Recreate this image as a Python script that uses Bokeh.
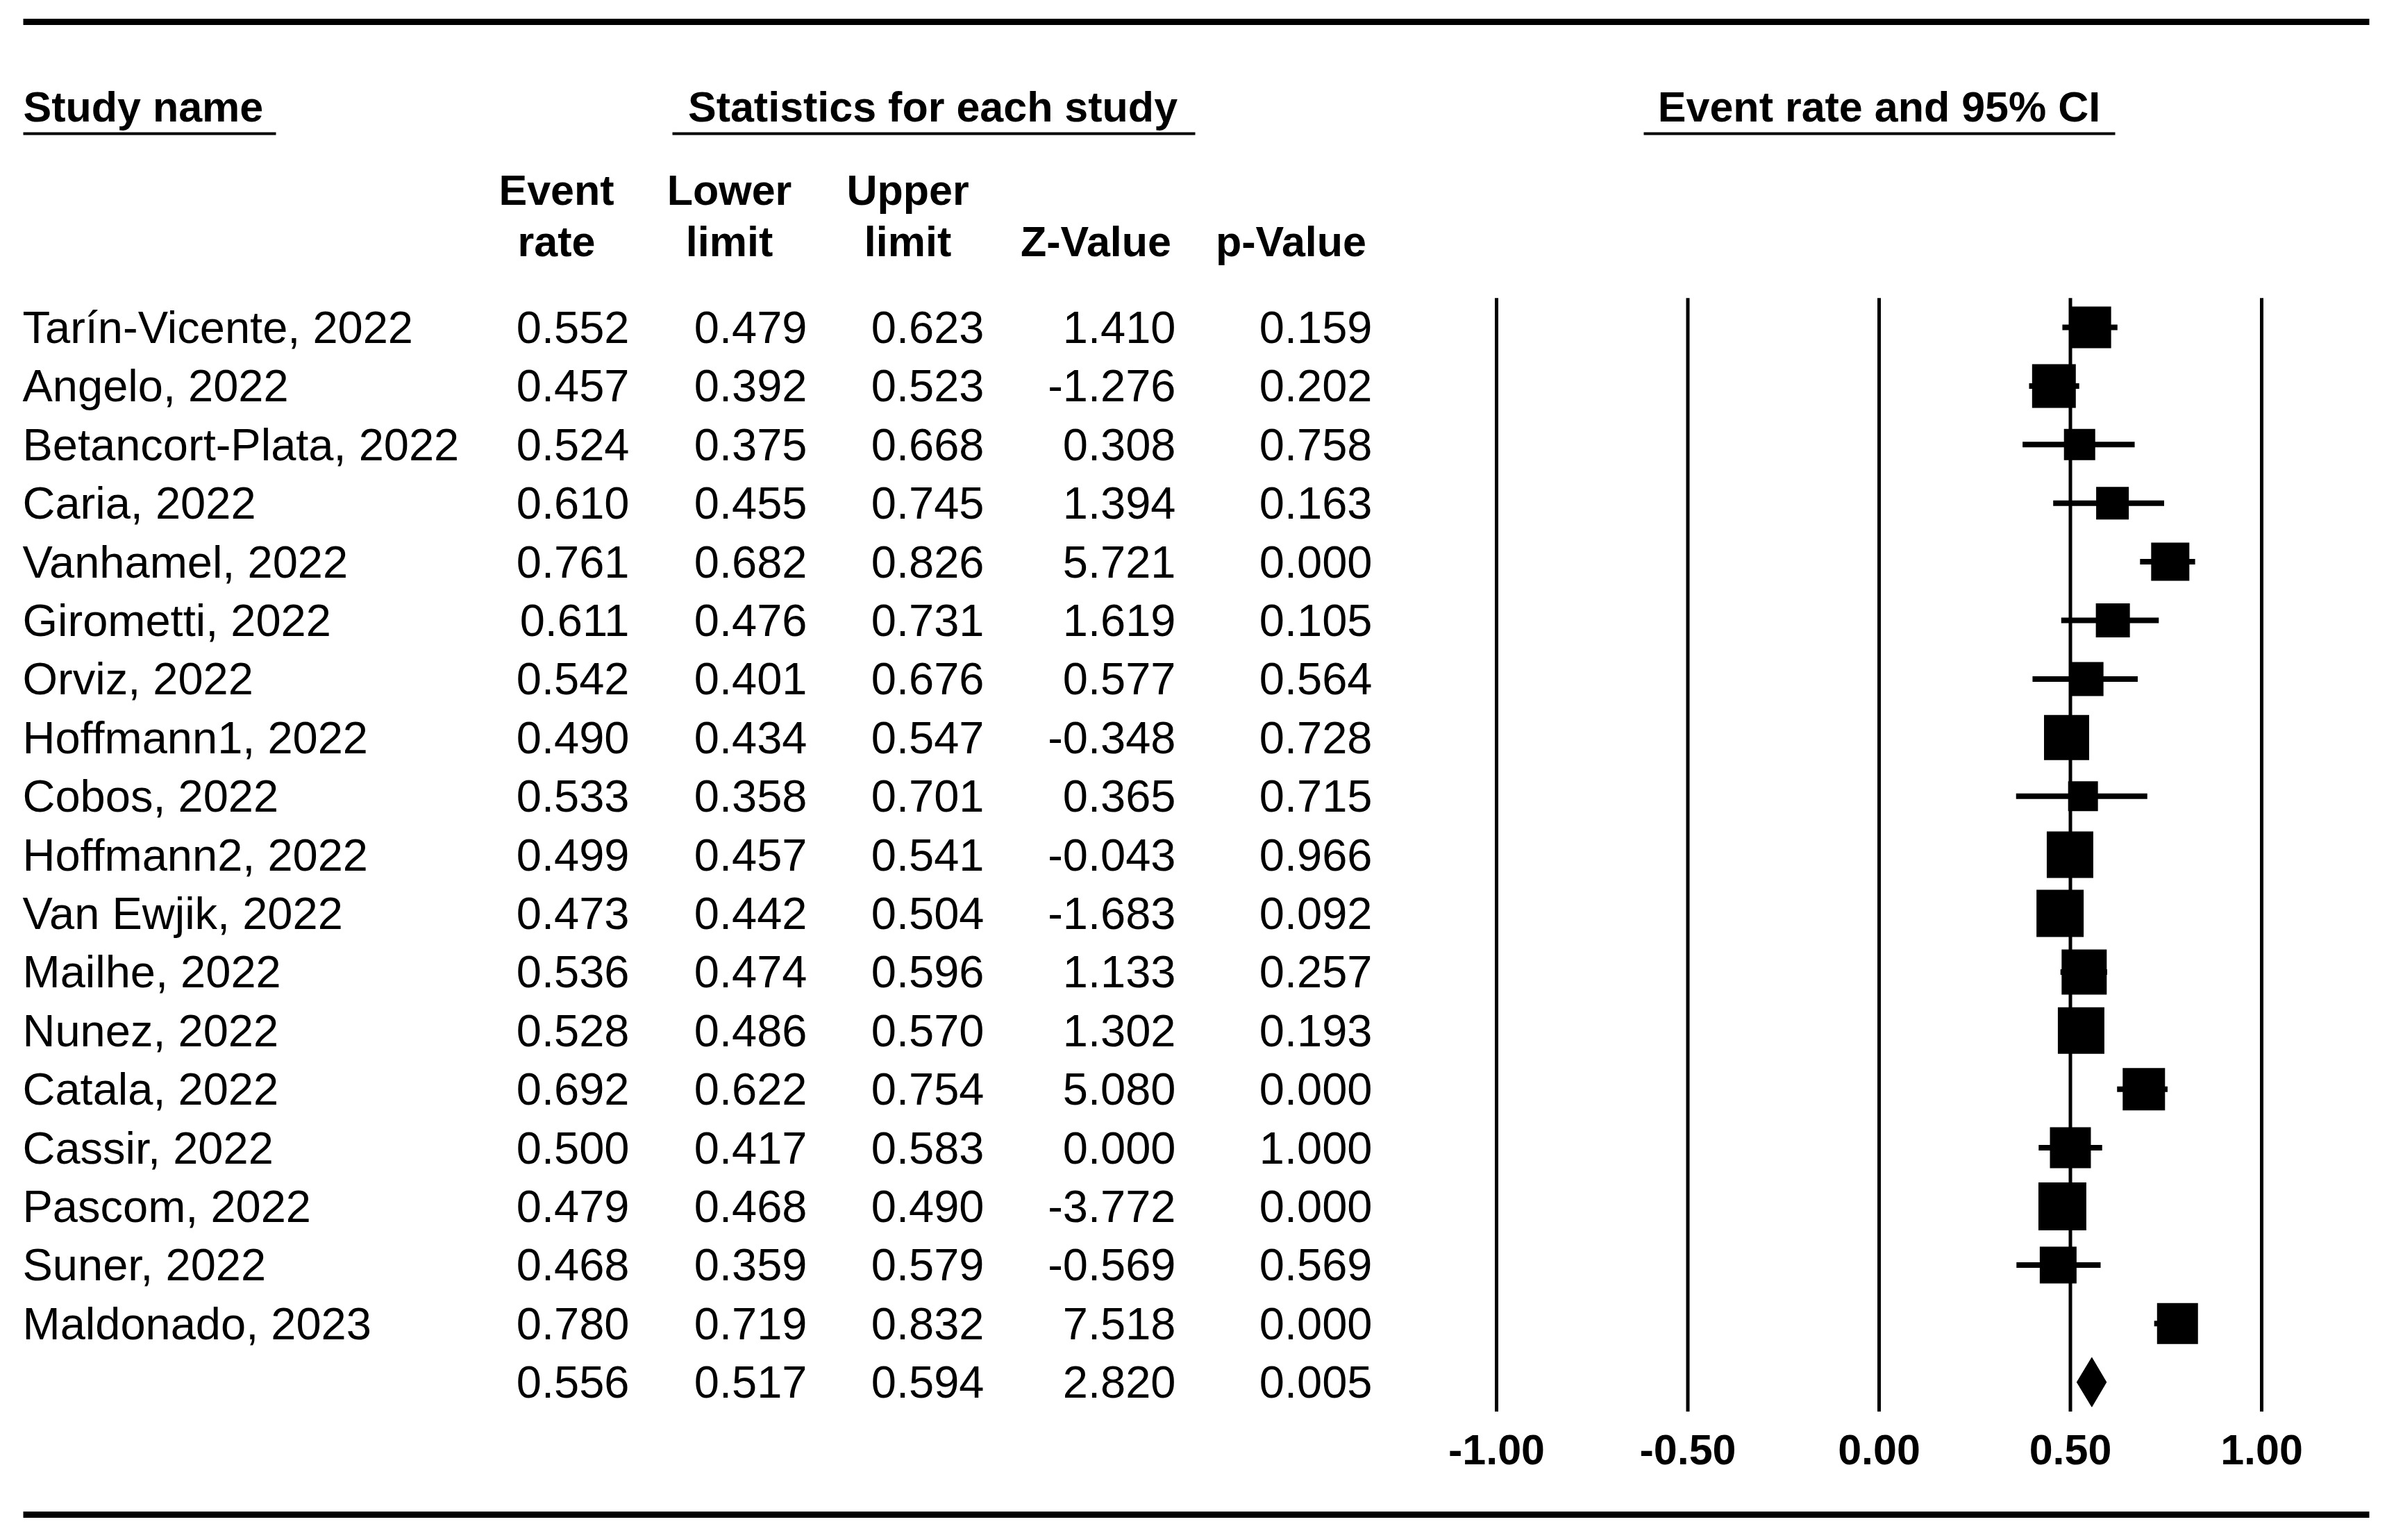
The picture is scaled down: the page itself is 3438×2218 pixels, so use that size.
import math
from bokeh.plotting import figure
from bokeh.models import Range1d, ColumnDataSource
from bokeh.core.properties import value
from bokeh.embed import file_html
from bokeh.resources import INLINE

# ---------------- data ----------------
studies = [
    "Tarín-Vicente, 2022", "Angelo, 2022", "Betancort-Plata, 2022", "Caria, 2022",
    "Vanhamel, 2022", "Girometti, 2022", "Orviz, 2022", "Hoffmann1, 2022",
    "Cobos, 2022", "Hoffmann2, 2022", "Van Ewjik, 2022", "Mailhe, 2022",
    "Nunez, 2022", "Catala, 2022", "Cassir, 2022", "Pascom, 2022",
    "Suner, 2022", "Maldonado, 2023",
]
event_rate = [0.552, 0.457, 0.524, 0.610, 0.761, 0.611, 0.542, 0.490, 0.533,
              0.499, 0.473, 0.536, 0.528, 0.692, 0.500, 0.479, 0.468, 0.780]
lower_limit = [0.479, 0.392, 0.375, 0.455, 0.682, 0.476, 0.401, 0.434, 0.358,
               0.457, 0.442, 0.474, 0.486, 0.622, 0.417, 0.468, 0.359, 0.719]
upper_limit = [0.623, 0.523, 0.668, 0.745, 0.826, 0.731, 0.676, 0.547, 0.701,
               0.541, 0.504, 0.596, 0.570, 0.754, 0.583, 0.490, 0.579, 0.832]
z_value = [1.410, -1.276, 0.308, 1.394, 5.721, 1.619, 0.577, -0.348, 0.365,
           -0.043, -1.683, 1.133, 1.302, 5.080, 0.000, -3.772, -0.569, 7.518]
p_value = [0.159, 0.202, 0.758, 0.163, 0.000, 0.105, 0.564, 0.728, 0.715,
           0.966, 0.092, 0.257, 0.193, 0.000, 1.000, 0.000, 0.569, 0.000]
# relative weights
weight_pct = [5.83, 6.42, 3.28, 3.58, 4.90, 3.89, 3.89, 6.84, 2.99,
              7.27, 7.48, 6.84, 7.27, 6.02, 5.63, 7.71, 4.55, 5.63]
summary_rate, summary_lower, summary_upper = 0.556, 0.517, 0.594
summary_z, summary_p = 2.820, 0.005
axis_ticks = [-1.0, -0.5, 0.0, 0.5, 1.0]
axis_labels = ["-1.00", "-0.50", "0.00", "0.50", "1.00"]

# ---------------- layout constants ----------------
W, H = 3422, 2202
ROW0 = 471.0      # pixel of first row centre
ROW_H = 84.4      # row spacing in px
X_M1, X_P1 = 2155.0, 3257.0   # pixel of -1 and +1 on forest scale
PPU = (X_P1 - X_M1) / 2.0

FONT = value("Liberation Sans")
REG = "65px"
BOLD = "61px"
BASE = 0.0   # text y is placed at the row centre

forest = Range1d(start=-1 - X_M1 / PPU, end=1 + (W - X_P1) / PPU)
rows = Range1d(start=(H - ROW0) / ROW_H, end=-ROW0 / ROW_H)

p = figure(width=W, height=H, x_range=Range1d(0, W), y_range=rows,
           output_backend="svg", toolbar_location=None,
           x_axis_location=None, y_axis_location=None, min_border=0)
p.outline_line_color = None
p.background_fill_color = "white"
p.border_fill_color = "white"
p.grid.visible = False
p.extra_x_ranges = {"forest": forest}
p.extra_y_ranges = {"px": Range1d(start=H, end=0)}

n = len(studies)
idx = list(range(n))

# ---------------- rules and headers ----------------
p.segment(x0=[33, 33], x1=[3412, 3412], y0=[31, 2181], y1=[31, 2181],
          y_range_name="px", line_width=9, line_color="black")
p.segment(x0=[33, 968, 2367], x1=[397, 1721, 3046], y0=[192] * 3, y1=[192] * 3,
          y_range_name="px", line_width=4, line_color="black")

p.text(x=[33], y=[153], text=["Study name"], y_range_name="px",
       text_font=FONT, text_font_size=BOLD, text_font_style="bold",
       text_align="left", text_baseline="alphabetic", text_color="black")
p.text(x=[1343, 2706], y=[153, 153],
       text=["Statistics for each study", "Event rate and 95% CI"],
       y_range_name="px", text_font=FONT, text_font_size=BOLD,
       text_font_style="bold", text_align="center",
       text_baseline="alphabetic", text_color="black")

hdr_x = [801, 1050, 1307, 801, 1050, 1307, 1578, 1859]
hdr_y = [273, 273, 273, 347, 347, 347, 347, 347]
hdr_t = ["Event", "Lower", "Upper", "rate", "limit", "limit", "Z-Value", "p-Value"]
p.text(x=hdr_x, y=hdr_y, text=hdr_t, y_range_name="px",
       text_font=FONT, text_font_size=BOLD, text_font_style="bold",
       text_align="center", text_baseline="alphabetic", text_color="black")

# ---------------- table body ----------------
p.text(x=32, y="y", text="text",
       source=ColumnDataSource(dict(y=[i + BASE for i in idx], text=studies)),
       text_font=FONT, text_font_size=REG, text_align="left",
       text_baseline="alphabetic", text_color="black")

columns = [
    (event_rate + [summary_rate], 906),
    (lower_limit + [summary_lower], 1162),
    (upper_limit + [summary_upper], 1417),
    (z_value + [summary_z], 1693),
    (p_value + [summary_p], 1976),
]
for vals, right in columns:
    src = ColumnDataSource(dict(y=[i + BASE for i in range(n + 1)],
                                text=[f"{v:.3f}" for v in vals]))
    p.text(x=right, y="y", text="text", source=src, text_font=FONT,
           text_font_size=REG, text_align="right",
           text_baseline="alphabetic", text_color="black")

# ---------------- forest plot ----------------
p.segment(x0=axis_ticks, x1=axis_ticks, y0=-0.5, y1=n + 0.5,
          x_range_name="forest", line_width=5, line_color="black")

p.segment(x0=lower_limit, x1=upper_limit, y0=idx, y1=idx,
          x_range_name="forest", line_width=8, line_color="black")

wmax = max(weight_pct)
sizes = [69.0 * math.sqrt(w / wmax) for w in weight_pct]
p.rect(x=event_rate, y=idx, width=sizes, height=sizes,
       width_units="screen", height_units="screen", x_range_name="forest",
       fill_color="black", line_color=None)

DH = 35.5 / ROW_H
p.patch(x=[summary_lower, summary_rate, summary_upper, summary_rate],
        y=[n, n - DH, n, n + DH], x_range_name="forest",
        fill_color="black", line_color="black", line_width=1)

p.text(x=axis_ticks, y=[2087] * len(axis_ticks), text=axis_labels,
       x_range_name="forest", y_range_name="px", text_font=FONT,
       text_font_size=BOLD, text_font_style="bold", text_align="center",
       text_baseline="alphabetic", text_color="black")

with open("out.html", "w", encoding="utf-8") as f:
    f.write(file_html(p, INLINE))
